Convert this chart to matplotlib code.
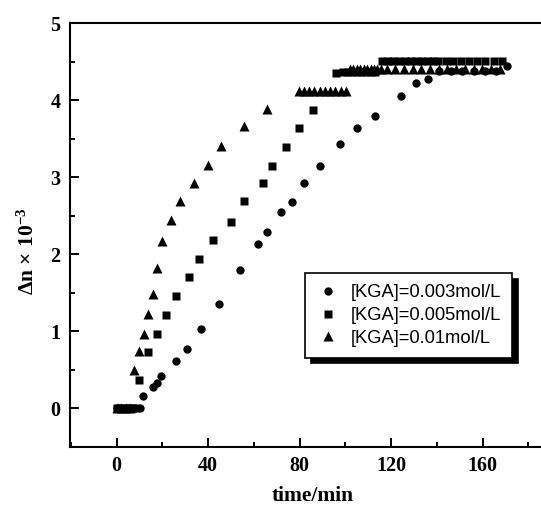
import matplotlib
matplotlib.use('Agg')
import matplotlib.pyplot as plt
from matplotlib.ticker import MultipleLocator

plt.rcParams['font.family'] = 'Liberation Serif'
plt.rcParams['mathtext.fontset'] = 'custom'
plt.rcParams['mathtext.rm'] = 'Liberation Serif'
plt.rcParams['mathtext.bf'] = 'Liberation Serif:bold'
plt.rcParams['mathtext.default'] = 'bf'

# [KGA]=0.003mol/L
t_003 = [0, 2, 4, 6, 8, 10, 11.6, 15.7, 17.5, 19.4, 25.8, 30.7, 36.8, 44.8,
         53.9, 61.8, 65.8, 71.7, 76.8, 81.8, 88.7, 97.8, 104.9, 112.8, 124.1,
         131.0, 136.0, 141, 146, 151, 156, 161, 166, 170.5]
n_003 = [0, 0, 0, 0, 0, 0, 0.16, 0.27, 0.33, 0.42, 0.61, 0.77, 1.03, 1.36,
         1.80, 2.13, 2.29, 2.55, 2.68, 2.93, 3.14, 3.43, 3.64, 3.80, 4.05,
         4.22, 4.27, 4.38, 4.38, 4.38, 4.38, 4.38, 4.38, 4.45]

# [KGA]=0.005mol/L
t_005 = [0, 2, 4, 6, 8, 9.7, 13.7, 17.6, 21.7, 25.8, 31.6, 35.8, 42.0, 49.8,
         55.8, 63.9, 67.9, 73.9, 79.8, 85.8, 95.8,
         99, 101, 103, 105, 107, 109, 111, 113,
         116, 118.5, 121, 123.5, 126, 128.5, 131, 133.5, 136, 138.5, 140.5,
         144, 147, 150.5, 154, 157.5, 161, 165, 168.5]
n_005 = [0, 0, 0, 0, 0, 0.37, 0.73, 0.96, 1.21, 1.46, 1.71, 1.94, 2.19, 2.42,
         2.69, 2.92, 3.15, 3.39, 3.64, 3.88, 4.35,
         4.37, 4.37, 4.37, 4.37, 4.37, 4.37, 4.37, 4.37,
         4.51, 4.51, 4.51, 4.51, 4.51, 4.51, 4.51, 4.51, 4.51, 4.51, 4.51,
         4.51, 4.51, 4.51, 4.51, 4.51, 4.51, 4.51, 4.51]

# [KGA]=0.01mol/L
t_01 = [0, 2, 4, 6, 7.7, 9.7, 11.8, 13.8, 15.7, 17.8, 19.7, 23.8, 27.8, 33.8,
        39.8, 45.8, 55.7, 65.8,
        79.5, 81.8, 84.1, 86.4, 88.7, 91.0, 93.3, 95.6, 97.9, 100.2,
        102, 103.5, 105, 106.5, 108, 109.5, 111, 112.5, 114, 115.5,
        118, 121.8, 125.6, 129.4, 133.2, 137, 140.8, 144.6, 148.4, 152.2,
        156, 159.8, 163.6, 167.4]
n_01 = [0, 0, 0, 0, 0.49, 0.74, 0.97, 1.22, 1.48, 1.82, 2.17, 2.44, 2.69, 2.92,
        3.16, 3.41, 3.66, 3.89,
        4.12, 4.12, 4.12, 4.12, 4.12, 4.12, 4.12, 4.12, 4.12, 4.12,
        4.41, 4.41, 4.41, 4.41, 4.41, 4.41, 4.41, 4.41, 4.41, 4.41,
        4.41, 4.41, 4.41, 4.41, 4.41, 4.41, 4.41, 4.41, 4.41, 4.41,
        4.41, 4.41, 4.41, 4.41]

labels = ['[KGA]=0.003mol/L', '[KGA]=0.005mol/L', '[KGA]=0.01mol/L']

fig = plt.figure(figsize=(5.41, 5.14), dpi=100)
ax = fig.add_axes([70/541, 67.3/514, 471/541, 423.4/514])

ax.plot(t_003, n_003, 'o', color='k', ms=6, mec='none', label=labels[0])
ax.plot(t_005, n_005, 's', color='k', ms=5.3, mec='none', label=labels[1])
ax.plot(t_01, n_01, '^', color='k', ms=6.8, mec='none', label=labels[2])

ax.set_xlim(-20.4, 185.5)
ax.set_ylim(-0.5, 5)
ax.xaxis.set_major_locator(MultipleLocator(40))
ax.xaxis.set_minor_locator(MultipleLocator(20))
ax.yaxis.set_major_locator(MultipleLocator(1))
ax.yaxis.set_minor_locator(MultipleLocator(0.5))

for s in ax.spines.values():
    s.set_linewidth(1.5)
ax.spines['right'].set_visible(False)
ax.tick_params(which='both', direction='in', width=1.4, top=False, right=False)
ax.tick_params(which='major', length=6.5, labelsize=14.5, pad=7)
ax.tick_params(which='minor', length=3.6)
for lab in ax.get_xticklabels() + ax.get_yticklabels():
    lab.set_fontweight('bold')

ax.set_xlabel('time/min', fontsize=15.5, fontweight='bold')
ax.xaxis.set_label_coords(0.515, -0.093)
ax.set_ylabel(r'$\Delta$n $\times$ 10$^{-3}$', fontsize=15.5, fontweight='bold')
ax.yaxis.set_label_coords(-0.066, 0.462)

leg = ax.legend(loc='upper left', bbox_to_anchor=(0.499, 0.41), frameon=True,
                fancybox=False, shadow={'ox': 4, 'oy': -4, 'color': 'k', 'alpha': 1},
                prop={'family': 'Liberation Sans', 'size': 13.2},
                handletextpad=0.55, borderpad=0.6, labelspacing=0.32,
                handlelength=1.35, borderaxespad=0)
leg.get_frame().set_edgecolor('k')
leg.get_frame().set_linewidth(1.2)
leg.get_frame().set_facecolor('white')

plt.savefig('out.png', dpi=100)
